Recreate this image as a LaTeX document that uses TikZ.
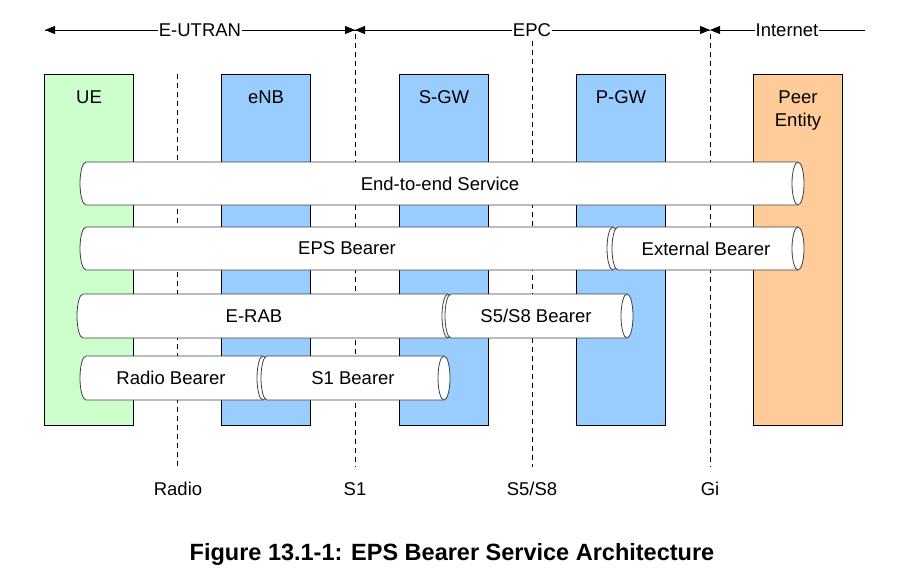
\documentclass[tikz,border=0pt]{standalone}
\usepackage{fontspec}
\setmainfont{Liberation Sans}
\usetikzlibrary{arrows.meta}
\definecolor{uegreen}{HTML}{CCFFCC}
\definecolor{netblue}{HTML}{99CCFF}
\definecolor{peerorange}{HTML}{FFCC99}
\newcommand\drawpipe[4]{%
  \pgfmathsetmacro\pipeh{(#4-#3)/2}%
  \filldraw[pipe] (#1,-#3) -- (#2,-#3) arc[start angle=90,end angle=-90,x radius=6,y radius=\pipeh] -- (#1,-#4) arc[start angle=270,end angle=90,x radius=6,y radius=\pipeh] -- cycle;
  \draw[pipe] (#2,-#3) arc[start angle=90,end angle=270,x radius=6,y radius=\pipeh];
}
\tikzset{
  txt/.style={font=\fontsize{18.5}{23}\selectfont, inner sep=0pt, align=center},
  pillar/.style={draw=black, line width=0.9pt, minimum width=89pt, minimum height=351pt, inner sep=0pt},
  pipe/.style={draw=black!75, fill=white, line width=0.8pt},
  refline/.style={dashed, dash pattern=on 5pt off 4pt, line width=0.8pt},
  domline/.style={line width=0.8pt},
  domtip/.style={-{Triangle[length=10pt,width=8pt]}},
  lbl/.style={txt, fill=white, inner xsep=0.5pt, inner ysep=2pt}
}
\begin{document}
\begin{tikzpicture}[x=1pt,y=1pt]
\useasboundingbox (0,0) rectangle (904,-574);
% pillars
\node[pillar, fill=uegreen]   (ue)   at (88.5,-249.5) {};
\node[pillar, fill=netblue]   (enb)  at (266,-249.5) {};
\node[pillar, fill=netblue]   (sgw)  at (444,-249.5) {};
\node[pillar, fill=netblue]   (pgw)  at (621,-249.5) {};
\node[pillar, fill=peerorange](peer) at (798,-249.5) {};
\node[txt] (uel)   at (89,-97) {UE};
\node[txt] (enbl)  at (266,-97) {eNB};
\node[txt] (sgwl)  at (444,-97) {S-GW};
\node[txt] (pgwl)  at (621,-97) {P-GW};
\node[txt, anchor=north] (peerl) at (798,-91) {Peer\\Entity};
% reference lines
\node[txt] (radio) at (178,-489) {Radio};
\node[txt] (s1)    at (355,-489) {S1};
\node[txt] (s5)    at (532,-489) {S5/S8};
\node[txt] (gi)    at (710,-489) {Gi};
\coordinate (radiotop) at (177,-74);
\coordinate (s1top) at (355,-34);
\coordinate (s5top) at (532,-41);
\coordinate (gitop) at (710,-34);
\draw[refline] (radiotop) -- (177,-467);
\draw[refline] (s1top) -- (355,-467);
\draw[refline] (s5top) -- (532,-467);
\draw[refline] (gitop) -- (710,-467);
% domains
\coordinate (dl) at (45,-30);
\coordinate (d1) at (355,-30);
\coordinate (d2) at (710,-30);
\coordinate (dr) at (865,-30);
\draw[domline, domtip] (d1) -- (dl);
\draw[domline, domtip] (dl) -- (d1);
\draw[domline, domtip] (d2) -- (d1);
\draw[domline, domtip] (d1) -- (d2);
\draw[domline, domtip] (dr) -- (d2);
\node[lbl] (eutran) at (200,-30) {E-UTRAN};
\node[lbl] (epc) at (532,-30) {EPC};
\node[lbl] (inet) at (787,-30) {Internet};
% bearers
\drawpipe{86}{798}{162}{205}
\node[txt] (e2e) at (440,-183.5) {End-to-end Service};
\drawpipe{86}{613}{227}{270}
\drawpipe{618}{798}{227}{270}
\node[txt] (eps) at (347,-248.5) {EPS Bearer};
\node[txt] (ext) at (706,-248.5) {External Bearer};
\drawpipe{83}{448}{294}{338}
\drawpipe{451}{627}{294}{338}
\node[txt] (erab) at (254,-316) {E-RAB};
\node[txt] (s58) at (536,-316) {S5/S8 Bearer};
\drawpipe{86}{263}{356}{400}
\drawpipe{267}{444}{356}{400}
\node[txt] (rb) at (171,-378) {Radio Bearer};
\node[txt] (s1b) at (353,-378) {S1 Bearer};
% caption
\node[font=\fontsize{23.5}{28}\selectfont\bfseries, inner sep=0pt] (cap) at (452,-554) {Figure 13.1-1: EPS Bearer Service Architecture};
\end{tikzpicture}
\end{document}
